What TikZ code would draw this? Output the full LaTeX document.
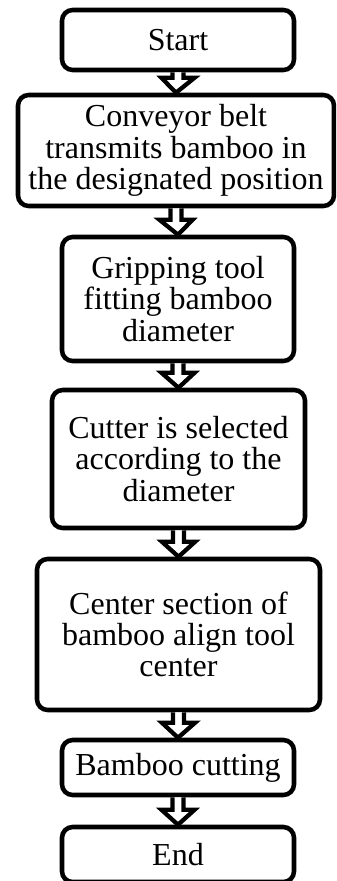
\documentclass[tikz,border=0pt]{standalone}
\usepackage{fontspec}
\setmainfont{Liberation Serif}
\usetikzlibrary{calc}
\tikzset{
  box/.style={draw, line width=3.4pt, rounded corners=8pt, align=center,
    font=\fontsize{24}{23.5}\selectfont, inner sep=1pt, outer sep=0pt},
  flowarrow/.style={draw, fill=white, line width=3.2pt, line join=miter,
    to path={let \p1=(\tikztostart), \p2=(\tikztotarget) in
      (\x1-4.2pt,\y1-1.7pt) -- (\x1-4.2pt,\y2+13pt) -- (\x1-12.5pt,\y2+13pt)
      -- (\x2,\y2+1.7pt) -- (\x1+12.5pt,\y2+13pt) -- (\x1+4.2pt,\y2+13pt)
      -- (\x1+4.2pt,\y1-1.7pt)}}
}
\begin{document}
\begin{tikzpicture}[x=0.75pt,y=-0.75pt]
\useasboundingbox (0,0) rectangle (336,881);
\clip (0,0) rectangle (336,881);
\node[box, minimum width=174pt, minimum height=45pt] (start) at (178,40) {Start};
\node[box, minimum width=237pt, minimum height=83.25pt] (conv) at (176,150.5)
  {Conveyor belt\\transmits bamboo in\\the designated position};
\node[box, minimum width=174pt, minimum height=93pt] (grip) at (178,299)
  {Gripping tool\\fitting bamboo\\diameter};
\node[box, minimum width=189.75pt, minimum height=103.5pt] (cut) at (178.5,459)
  {Cutter is selected\\according to the\\diameter};
\node[box, minimum width=212.25pt, minimum height=113.25pt] (cent) at (178.5,634.5)
  {Center section of\\bamboo align tool\\center};
\node[box, minimum width=174pt, minimum height=41.25pt] (bcut) at (178,767.5)
  {Bamboo cutting};
\node[box, minimum width=174pt, minimum height=41.25pt] (end) at (178,854.5)
  {End};
\draw[flowarrow] (start.south) to (conv.north);
\draw[flowarrow] (conv.south) to (grip.north);
\draw[flowarrow] (grip.south) to (cut.north);
\draw[flowarrow] (cut.south) to (cent.north);
\draw[flowarrow] (cent.south) to (bcut.north);
\draw[flowarrow] (bcut.south) to (end.north);
\end{tikzpicture}
\end{document}
